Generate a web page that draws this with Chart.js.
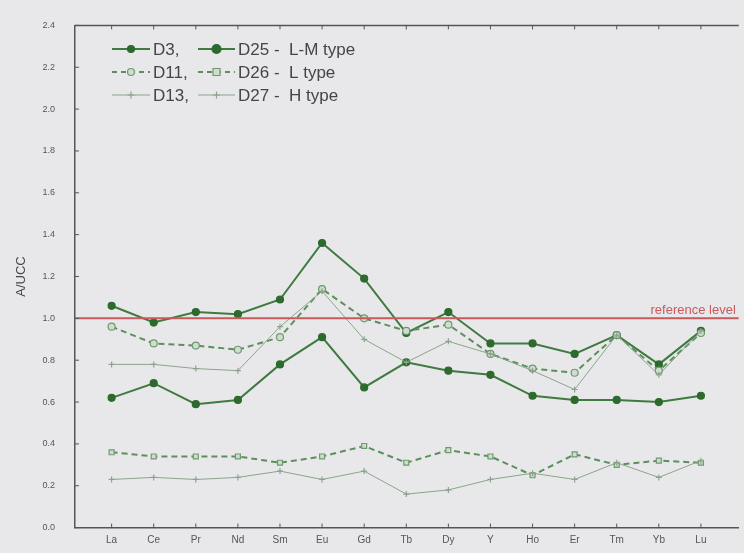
<!DOCTYPE html>
<html>
<head>
<meta charset="utf-8">
<script src="https://cdn.jsdelivr.net/npm/chart.js@4"></script>
<style>
  html, body { margin: 0; padding: 0; background: #e8e8eb; }
  #wrap { width: 744px; height: 553px; position: relative; }
</style>
</head>
<body>
<div id="wrap"><canvas id="chart" width="744" height="553"></canvas></div>
<script>
/* ── Data ── */
const CATEGORIES = ['La', 'Ce', 'Pr', 'Nd', 'Sm', 'Eu', 'Gd', 'Tb', 'Dy', 'Y', 'Ho', 'Er', 'Tm', 'Yb', 'Lu'];
const Y_TICKS    = [0.0, 0.2, 0.4, 0.6, 0.8, 1.0, 1.2, 1.4, 1.6, 1.8, 2.0, 2.2, 2.4];

const D3  = [1.06, 0.98, 1.03, 1.02, 1.09, 1.36, 1.19, 0.93, 1.03, 0.88, 0.88, 0.83, 0.92, 0.78, 0.94];
const D25 = [0.62, 0.69, 0.59, 0.61, 0.78, 0.91, 0.67, 0.79, 0.75, 0.73, 0.63, 0.61, 0.61, 0.60, 0.63];
const D11 = [0.96, 0.88, 0.87, 0.85, 0.91, 1.14, 1.00, 0.94, 0.97, 0.83, 0.76, 0.74, 0.92, 0.75, 0.93];
const D26 = [0.36, 0.34, 0.34, 0.34, 0.31, 0.34, 0.39, 0.31, 0.37, 0.34, 0.25, 0.35, 0.30, 0.32, 0.31];
const D13 = [0.78, 0.78, 0.76, 0.75, 0.96, 1.13, 0.90, 0.79, 0.89, 0.83, 0.75, 0.66, 0.92, 0.73, 0.94];
const D27 = [0.23, 0.24, 0.23, 0.24, 0.27, 0.23, 0.27, 0.16, 0.18, 0.23, 0.26, 0.23, 0.31, 0.24, 0.32];

const REFERENCE_LEVEL = 1.0;
const X_MIN = -0.87, X_MAX = 14.9;

/* ── Styles ── */
const GREEN_DARK  = '#3f7a3f';
const GREEN_MID   = '#5b8f5b';
const GREEN_THIN  = '#8aa48a';
const MARK_DARK   = '#2d6a2d';
const REF_RED     = '#c85a5c';
const AXIS_GREY   = '#555555';
const TEXT_GREY   = '#454545';

const STYLES = {
    solid:  { borderColor: GREEN_DARK, borderWidth: 2, pointStyle: 'circle', pointRadius: 3.5,
              pointBackgroundColor: MARK_DARK, pointBorderColor: MARK_DARK, borderDash: [] },
    dashed: { borderColor: GREEN_MID, borderWidth: 2, pointStyle: 'circle', pointRadius: 3.5,
              pointBackgroundColor: '#cfdccf', pointBorderColor: '#6f9a6f', borderDash: [6, 4] },
    dashedSq: { borderColor: GREEN_MID, borderWidth: 2, pointStyle: 'rect', pointRadius: 3.5,
              pointBackgroundColor: '#cfdccf', pointBorderColor: '#6f9a6f', borderDash: [6, 4] },
    thin:   { borderColor: GREEN_THIN, borderWidth: 1, pointStyle: 'cross', pointRadius: 3,
              pointBackgroundColor: GREEN_THIN, pointBorderColor: GREEN_THIN, borderDash: [] },
};

const toPoints = arr => arr.map((v, i) => ({ x: i, y: v }));

function series(label, values, style) {
    const s = STYLES[style];
    return {
        label,
        data: toPoints(values),
        borderColor:          s.borderColor,
        borderWidth:          s.borderWidth,
        borderDash:           s.borderDash,
        pointStyle:           s.pointStyle,
        pointRadius:          s.pointRadius,
        pointBorderWidth:     1.2,
        pointBackgroundColor: s.pointBackgroundColor,
        pointBorderColor:     s.pointBorderColor,
        backgroundColor:      'transparent',
        tension:              0,
        fill:                 false,
    };
}

/* ── Plugin: frame top, inward ticks, legend, reference label ── */
const framePlugin = {
    id: 'frame',
    afterDraw(chart) {
        const { ctx, chartArea: a, scales: { x, y } } = chart;
        ctx.save();
        ctx.strokeStyle = AXIS_GREY;
        ctx.lineWidth = 1.5;
        ctx.beginPath();
        ctx.moveTo(a.left, a.top);
        ctx.lineTo(a.right, a.top);
        ctx.stroke();

        // small inward ticks
        ctx.lineWidth = 1;
        ctx.beginPath();
        CATEGORIES.forEach((c, i) => {
            const px = x.getPixelForValue(i);
            ctx.moveTo(px, a.bottom); ctx.lineTo(px, a.bottom - 4);
            ctx.moveTo(px, a.top);    ctx.lineTo(px, a.top + 4);
        });
        Y_TICKS.forEach(v => {
            const py = y.getPixelForValue(v);
            ctx.moveTo(a.left, py); ctx.lineTo(a.left + 4, py);
        });
        ctx.stroke();

        // reference label
        const ry = y.getPixelForValue(REFERENCE_LEVEL);
        ctx.fillStyle = REF_RED;
        ctx.font = '13px "Liberation Sans", Arial, sans-serif';
        ctx.textAlign = 'right';
        ctx.textBaseline = 'bottom';
        ctx.fillText('reference level', a.right - 3, ry - 1);

        // legend
        const rows = [
            { y: 49, a: 'solid',  b: 'solid',    t1: 'D3,',  t2: 'D25 -  L-M type' },
            { y: 72, a: 'dashed', b: 'dashedSq', t1: 'D11,', t2: 'D26 -  L type' },
            { y: 95, a: 'thin',   b: 'thin',     t1: 'D13,', t2: 'D27 -  H type' },
        ];
        ctx.font = '17px "Liberation Sans", Arial, sans-serif';
        ctx.textAlign = 'left';
        ctx.textBaseline = 'middle';
        rows.forEach(r => {
            drawSample(ctx, 112, 150, r.y, STYLES[r.a], 3.5);
            ctx.fillStyle = TEXT_GREY;
            ctx.fillText(r.t1, 153, r.y + 1);
            drawSample(ctx, 198, 235, r.y, STYLES[r.b], r.b === 'solid' ? 4.5 : 3.5);
            ctx.fillStyle = TEXT_GREY;
            ctx.fillText(r.t2, 238, r.y + 1);
        });
        ctx.restore();
    }
};

function drawSample(ctx, x0, x1, y, s, r) {
    ctx.save();
    ctx.strokeStyle = s.borderColor;
    ctx.lineWidth = s.borderWidth;
    ctx.setLineDash(s.borderDash.length ? [5, 4] : []);
    ctx.beginPath();
    ctx.moveTo(x0, y); ctx.lineTo(x1, y);
    ctx.stroke();
    ctx.setLineDash([]);
    const cx = (x0 + x1) / 2;
    ctx.fillStyle = s.pointBackgroundColor;
    ctx.strokeStyle = s.pointBorderColor;
    ctx.lineWidth = 1.2;
    ctx.beginPath();
    if (s.pointStyle === 'circle') {
        ctx.arc(cx, y, r, 0, Math.PI * 2);
        ctx.fill(); ctx.stroke();
    } else if (s.pointStyle === 'rect') {
        ctx.rect(cx - r, y - r, 2 * r, 2 * r);
        ctx.fill(); ctx.stroke();
    } else {
        ctx.moveTo(cx - r, y); ctx.lineTo(cx + r, y);
        ctx.moveTo(cx, y - r); ctx.lineTo(cx, y + r);
        ctx.stroke();
    }
    ctx.restore();
}

/* ── Chart ── */
const refLine = {
    label:       'reference level',
    data:        [{ x: X_MIN, y: REFERENCE_LEVEL }, { x: X_MAX, y: REFERENCE_LEVEL }],
    borderColor: REF_RED,
    borderWidth: 2,
    pointRadius: 0,
    fill:        false,
};

new Chart(document.getElementById('chart').getContext('2d'), {
    type: 'line',
    data: {
        datasets: [
            refLine,
            series('D27', D27, 'thin'),
            series('D13', D13, 'thin'),
            series('D26', D26, 'dashedSq'),
            series('D11', D11, 'dashed'),
            series('D25', D25, 'solid'),
            series('D3',  D3,  'solid'),
        ],
    },
    options: {
        responsive: false,
        animation:  false,
        layout: { padding: { top: 23, right: 0, left: 0, bottom: 0 } },
        plugins: {
            legend:  { display: false },
            tooltip: { enabled: false },
        },
        scales: {
            x: {
                type: 'linear',
                min:  X_MIN,
                max:  X_MAX,
                afterBuildTicks: s => { s.ticks = CATEGORIES.map((c, i) => ({ value: i })); },
                afterFit: s => { s.height = 22; },
                grid:   { display: false, drawTicks: false },
                border: { display: true, color: AXIS_GREY, width: 1.5 },
                ticks: {
                    callback: v => CATEGORIES[v] ?? '',
                    color:    '#555',
                    padding:  7,
                    maxRotation: 0,
                    autoSkip: false,
                    font: { family: '"Liberation Sans", Arial, sans-serif', size: 10 },
                },
            },
            y: {
                min: 0,
                max: 2.4,
                afterBuildTicks: s => { s.ticks = Y_TICKS.map(v => ({ value: v })); },
                afterFit: s => { s.width = 75; },
                grid:   { display: false, drawTicks: false },
                border: { display: true, color: AXIS_GREY, width: 1.5 },
                ticks: {
                    callback: v => v.toFixed(1),
                    color:    '#555',
                    padding:  20,
                    font: { family: '"Liberation Sans", Arial, sans-serif', size: 9 },
                },
                title: {
                    display: true,
                    text:    'A/UCC',
                    color:   TEXT_GREY,
                    padding: { top: 14, bottom: 0 },
                    font: { family: '"Liberation Sans", Arial, sans-serif', size: 13 },
                },
            },
        },
    },
    plugins: [framePlugin],
});
</script>
</body>
</html>
